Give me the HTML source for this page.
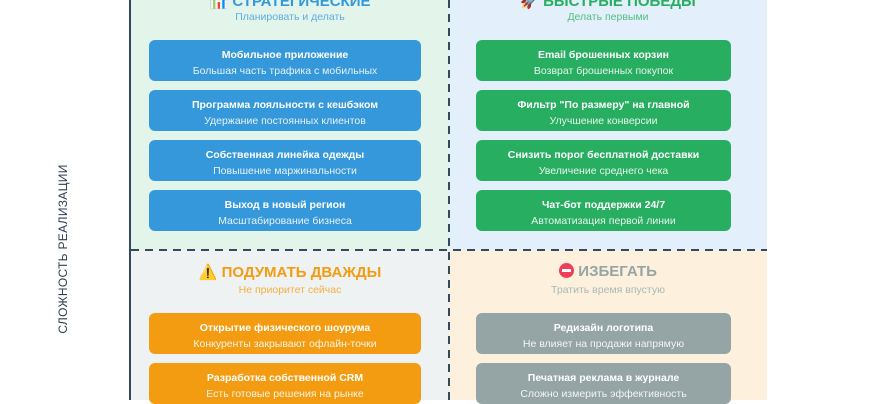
<!DOCTYPE html>
<html><head><meta charset="utf-8"><style>
*{margin:0;padding:0;box-sizing:border-box}
body{width:870px;height:400px;overflow:hidden;background:#fff;font-family:"Liberation Sans","Noto Sans CJK SC",sans-serif;position:relative}
.q{position:absolute}
.axis{position:absolute;left:129px;top:0;width:2px;height:400px;background:#34495e}
.vl{position:absolute;left:63px;top:249px;transform:translate(-50%,-50%) rotate(-90deg);font-size:12px;color:#2c3e50;white-space:nowrap;letter-spacing:.3px}
.t{position:absolute;text-align:center;font-weight:bold;font-size:15px;white-space:nowrap}
.s{position:absolute;text-align:center;font-size:10.5px;white-space:nowrap}
.c{position:absolute;border-radius:6px;color:#fff;text-align:center;height:41px;padding-top:9px}
.c b{display:block;font-size:10.5px;line-height:13px}
.c span{display:block;font-size:10.5px;line-height:13px;margin-top:3px;opacity:.88}
.L{left:149px;width:272px}.R{left:476px;width:255px}
.bl{background:#3498db}.gr{background:#27ae60}.or{background:#f39c12}.gy{background:#95a5a6}
</style></head><body>
<div class="q" style="left:131px;top:0;width:318px;height:250px;background:#e3f4ea"></div>
<div class="q" style="left:449px;top:0;width:318px;height:250px;background:#e3effa"></div>
<div class="q" style="left:131px;top:250px;width:318px;height:150px;background:#eef2f3"></div>
<div class="q" style="left:449px;top:250px;width:318px;height:150px;background:#fdf0dc"></div>
<svg style="position:absolute;left:0;top:0" width="870" height="400">
<line x1="449" y1="0" x2="449" y2="400" stroke="#34495e" stroke-width="2" stroke-dasharray="8,6"/>
<line x1="131" y1="250" x2="767" y2="250" stroke="#34495e" stroke-width="2" stroke-dasharray="8,6"/>
</svg>
<div class="axis"></div>
<div class="vl">СЛОЖНОСТЬ РЕАЛИЗАЦИИ</div>

<div class="t" style="left:131px;width:318px;top:-8px;color:#3498db">📊 СТРАТЕГИЧЕСКИЕ</div>
<div class="s" style="left:131px;width:318px;top:11px;color:#5dade2">Планировать и делать</div>
<div class="t" style="left:449px;width:318px;top:-8px;color:#27ae60">🚀 БЫСТРЫЕ ПОБЕДЫ</div>
<div class="s" style="left:449px;width:318px;top:11px;color:#52be80">Делать первыми</div>
<div class="t" style="left:131px;width:318px;top:263px;color:#f39c12">⚠️ ПОДУМАТЬ ДВАЖДЫ</div>
<div class="s" style="left:131px;width:318px;top:284px;color:#f5b041">Не приоритет сейчас</div>
<div class="t" style="left:449px;width:318px;top:263px;color:#95a5a6"><span style="display:inline-block;width:15px;height:15px;border-radius:50%;background:#f03e5a;vertical-align:-2px;position:relative"><span style="position:absolute;left:3px;top:6px;width:9px;height:3px;background:#fff"></span></span> ИЗБЕГАТЬ</div>
<div class="s" style="left:449px;width:318px;top:284px;color:#aab7b8">Тратить время впустую</div>

<div class="c L bl" style="top:40px"><b>Мобильное приложение</b><span>Большая часть трафика с мобильных</span></div>
<div class="c L bl" style="top:90px"><b>Программа лояльности с кешбэком</b><span>Удержание постоянных клиентов</span></div>
<div class="c L bl" style="top:140px"><b>Собственная линейка одежды</b><span>Повышение маржинальности</span></div>
<div class="c L bl" style="top:190px"><b>Выход в новый регион</b><span>Масштабирование бизнеса</span></div>

<div class="c R gr" style="top:40px"><b>Email брошенных корзин</b><span>Возврат брошенных покупок</span></div>
<div class="c R gr" style="top:90px"><b>Фильтр "По размеру" на главной</b><span>Улучшение конверсии</span></div>
<div class="c R gr" style="top:140px"><b>Снизить порог бесплатной доставки</b><span>Увеличение среднего чека</span></div>
<div class="c R gr" style="top:190px"><b>Чат-бот поддержки 24/7</b><span>Автоматизация первой линии</span></div>

<div class="c L or" style="top:313px"><b>Открытие физического шоурума</b><span>Конкуренты закрывают офлайн-точки</span></div>
<div class="c L or" style="top:363px"><b>Разработка собственной CRM</b><span>Есть готовые решения на рынке</span></div>

<div class="c R gy" style="top:313px"><b>Редизайн логотипа</b><span>Не влияет на продажи напрямую</span></div>
<div class="c R gy" style="top:363px"><b>Печатная реклама в журнале</b><span>Сложно измерить эффективность</span></div>
</body></html>
